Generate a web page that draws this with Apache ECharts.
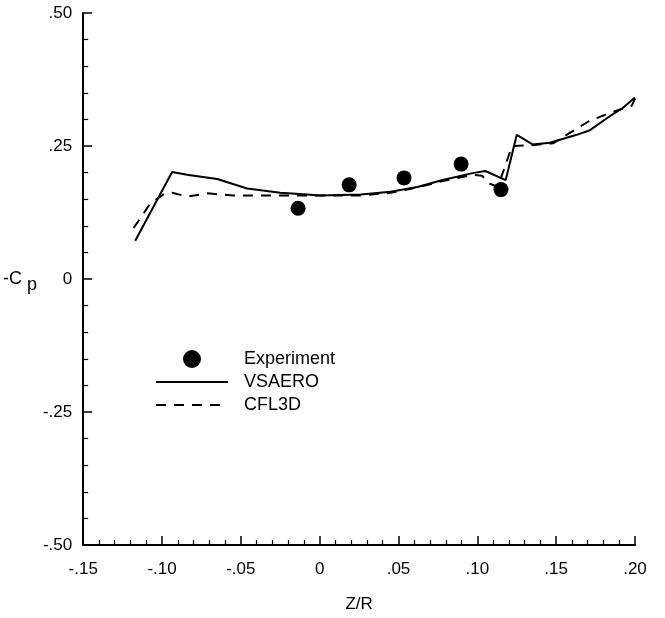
<!DOCTYPE html>
<html>
<head>
<meta charset="utf-8">
<script src="https://cdn.jsdelivr.net/npm/echarts@6/dist/echarts.min.js"></script>
<style>
  html, body { margin: 0; padding: 0; background: #fff; }
  #chart { width: 665px; height: 618px; }
</style>
</head>
<body>
<div id="chart"></div>
<script>
// Experiment points [Z/R, -Cp]
const experiment = [
  [-0.0137, 0.133],
  [0.0187, 0.177],
  [0.0535, 0.190],
  [0.0897, 0.216],
  [0.115, 0.168]
];
// VSAERO (solid)
const vsaero = [
  [-0.117, 0.072], [-0.0936, 0.201], [-0.0841, 0.196], [-0.065, 0.188],
  [-0.046, 0.170], [-0.025, 0.162], [-0.008, 0.159], [0.000, 0.157],
  [0.026, 0.159], [0.045, 0.164], [0.062, 0.173], [0.078, 0.186],
  [0.097, 0.199], [0.105, 0.203], [0.118, 0.186], [0.125, 0.271],
  [0.135, 0.253], [0.146, 0.256], [0.163, 0.271], [0.171, 0.279],
  [0.184, 0.306], [0.192, 0.321], [0.200, 0.341]
];
// CFL3D (dashed)
const cfl3d = [
  [-0.118, 0.096], [-0.114, 0.113], [-0.1075, 0.142], [-0.099, 0.159],
  [-0.0936, 0.162], [-0.084, 0.155], [-0.071, 0.161], [-0.055, 0.157],
  [-0.038, 0.157], [-0.023, 0.157], [-0.008, 0.157], [0.000, 0.157],
  [0.026, 0.157], [0.045, 0.162], [0.062, 0.172], [0.078, 0.184],
  [0.097, 0.196], [0.103, 0.194], [0.108, 0.179], [0.113, 0.173],
  [0.122, 0.250], [0.132, 0.251], [0.148, 0.255], [0.171, 0.297],
  [0.184, 0.312], [0.198, 0.326], [0.200, 0.339]
];
const seriesNames = ['Experiment', 'VSAERO', 'CFL3D'];
const xTicks = { min: -0.15, max: 0.20, step: 0.05 };
const yTicks = { min: -0.50, max: 0.50, step: 0.25 };

function fmt(v) {
  if (Math.abs(v) < 1e-9) return '0';
  let s = Math.abs(v).toFixed(2).replace(/^0/, '');
  return (v < 0 ? '-' : '') + s;
}

const FONT = 'Liberation Sans, Arial, Helvetica, sans-serif';
const chart = echarts.init(document.getElementById('chart'), null, { renderer: 'canvas' });
const axisCommon = {
  axisLine: { show: true, onZero: false, lineStyle: { color: '#000', width: 2 } },
  axisTick: { show: true, inside: true, length: 9, lineStyle: { color: '#000', width: 1.5 } },
  minorTick: { show: true, splitNumber: 5, length: 5, lineStyle: { color: '#000', width: 1.2 } },
  splitLine: { show: false },
  minorSplitLine: { show: false },
  axisLabel: { color: '#000', fontFamily: FONT, fontSize: 17, formatter: fmt }
};
const hiddenSymbol = { color: 'rgba(0,0,0,0)', borderColor: 'rgba(0,0,0,0)', borderWidth: 0, opacity: 0 };
chart.setOption({
  backgroundColor: '#fff',
  animation: false,
  grid: { left: 83, right: 30, top: 13, bottom: 63, containLabel: false },
  legend: {
    orient: 'vertical',
    left: 150,
    top: 345,
    itemWidth: 72,
    itemHeight: 18,
    itemGap: 5,
    data: [
      { name: seriesNames[0] },
      { name: seriesNames[1], itemStyle: hiddenSymbol },
      { name: seriesNames[2], itemStyle: hiddenSymbol }
    ],
    textStyle: { color: '#000', fontFamily: FONT, fontSize: 18, lineHeight: 18, padding: [0, 0, 0, 11] }
  },
  xAxis: Object.assign({}, axisCommon, {
    type: 'value',
    min: xTicks.min, max: xTicks.max, interval: xTicks.step,
    name: 'Z/R',
    nameLocation: 'middle',
    nameGap: 51,
    nameTextStyle: { color: '#000', fontFamily: FONT, fontSize: 17 },
    axisLabel: Object.assign({}, axisCommon.axisLabel, { margin: 16 })
  }),
  yAxis: Object.assign({}, axisCommon, {
    type: 'value',
    min: yTicks.min, max: yTicks.max, interval: yTicks.step,
    name: '-C{p|p}',
    nameLocation: 'middle',
    nameRotate: 0,
    nameGap: 28,
    nameTextStyle: {
      color: '#000', fontFamily: FONT, fontSize: 18,
      rich: { p: { fontFamily: FONT, fontSize: 18, padding: [12, 0, 0, 5], color: '#000' } }
    },
    axisLabel: Object.assign({}, axisCommon.axisLabel, { margin: 11 })
  }),
  series: [
    {
      name: 'Experiment', type: 'scatter', data: experiment,
      symbol: 'circle', symbolSize: 15,
      itemStyle: { color: '#000', opacity: 1 }
    },
    {
      name: 'VSAERO', type: 'line', data: vsaero,
      symbol: 'none', showSymbol: false,
      lineStyle: { color: '#000', width: 2, type: 'solid' },
      itemStyle: { color: '#000' }
    },
    {
      name: 'CFL3D', type: 'line', data: cfl3d,
      symbol: 'none', showSymbol: false,
      lineStyle: { color: '#000', width: 2, type: [10, 8] },
      itemStyle: { color: '#000' }
    }
  ]
});
</script>
</body>
</html>
